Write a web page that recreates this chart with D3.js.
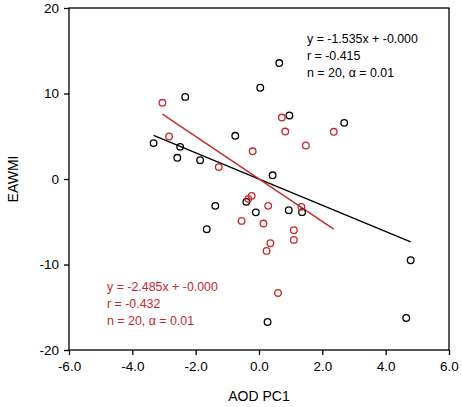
<!DOCTYPE html>
<html>
<head>
<meta charset="utf-8">
<script src="https://cdn.jsdelivr.net/npm/d3@7"></script>
<style>
  body { margin: 0; background: #fff; }
  text { font-family: "Liberation Sans", Arial, sans-serif; }
</style>
</head>
<body>
<svg id="chart"></svg>
<script>
// chart data
const blackX = [-3.33, -2.33, -2.49, -2.58, -1.86, -0.75, 0.64, 0.04, 0.96, 2.69,
  0.43, -1.38, -0.40, -0.10, 0.94, 1.36, -1.65, 4.79, 4.65, 0.27];
const blackY = [4.2, 9.6, 3.76, 2.48, 2.2, 5.05, 13.56, 10.67, 7.43, 6.57,
  0.43, -3.14, -2.67, -3.9, -3.65, -3.88, -5.87, -9.5, -16.25, -16.72];
const redX = [-3.05, -2.84, -1.27, -0.20, 0.72, 0.83, 1.48, 2.36, -0.23, -0.34,
  0.29, -0.55, 0.14, 1.34, 1.10, 1.10, 0.36, 0.24, 0.60];
const redY = [8.91, 4.97, 1.39, 3.24, 7.19, 5.55, 3.92, 5.52, -1.97, -2.32,
  -3.14, -4.9, -5.21, -3.26, -5.99, -7.12, -7.51, -8.41, -13.33];
const blackSlope = -1.535, redSlope = -2.485;
const blackText = ["y = -1.535x + -0.000", "r = -0.415", "n = 20, \u03b1 = 0.01"];
const redText = ["y = -2.485x + -0.000", "r = -0.432", "n = 20, \u03b1 = 0.01"];
const xTicks = [-6, -4, -2, 0, 2, 4, 6];
const yTicks = [-20, -10, 0, 10, 20];

//////////////////////////
// Chart specifications //
//////////////////////////
const W = 462, H = 407;
const margin = { top: 8, right: 13, bottom: 57, left: 69 };
const blackCol = "#000", redCol = "#c8282d";

const svg = d3.select("#chart").attr("width", W).attr("height", H);

const x = d3.scaleLinear().domain([-6, 6]).range([margin.left, W - margin.right]);
const y = d3.scaleLinear().domain([-20, 20]).range([H - margin.bottom, margin.top]);

// frame
svg.append("rect")
  .attr("x", x(-6)).attr("y", y(20))
  .attr("width", x(6) - x(-6)).attr("height", y(-20) - y(20))
  .attr("fill", "none").attr("stroke", "#000").attr("stroke-width", 1.3);

// axes (plain hyphen minus, like the original)
svg.append("g")
  .attr("transform", `translate(0,${y(-20)})`)
  .call(d3.axisBottom(x).tickValues(xTicks).tickFormat((d) => d.toFixed(1)).tickSize(5).tickPadding(6))
  .call((g) => g.select(".domain").remove())
  .call((g) => g.selectAll(".tick line").attr("stroke-width", 1.3))
  .call((g) => g.selectAll(".tick text").attr("font-size", 13.5).attr("fill", "#000")
    .attr("font-family", "Liberation Sans, Arial, sans-serif"));

svg.append("g")
  .attr("transform", `translate(${x(-6)},0)`)
  .call(d3.axisLeft(y).tickValues(yTicks).tickFormat((d) => String(d)).tickSize(5).tickPadding(5))
  .call((g) => g.select(".domain").remove())
  .call((g) => g.selectAll(".tick line").attr("stroke-width", 1.3))
  .call((g) => g.selectAll(".tick text").attr("font-size", 13.5).attr("fill", "#000")
    .attr("font-family", "Liberation Sans, Arial, sans-serif"));

// axis titles
svg.append("text")
  .attr("x", x(0)).attr("y", 401)
  .attr("text-anchor", "middle").attr("font-size", 14)
  .text("AOD PC1");
svg.append("text")
  .attr("transform", `translate(18,${y(0)}) rotate(-90)`)
  .attr("text-anchor", "middle").attr("font-size", 14)
  .text("EAWMI");

// regression lines (drawn over the data extent)
function drawFit(xs, slope, col) {
  const ext = d3.extent(xs);
  svg.append("line")
    .attr("x1", x(ext[0])).attr("y1", y(slope * ext[0]))
    .attr("x2", x(ext[1])).attr("y2", y(slope * ext[1]))
    .attr("stroke", col).attr("stroke-width", 1.4);
}
drawFit(blackX, blackSlope, blackCol);
drawFit(redX, redSlope, redCol);

// points
function drawDots(xs, ys, col) {
  svg.append("g")
    .selectAll("circle")
    .data(xs.map((d, i) => [d, ys[i]]))
    .join("circle")
    .attr("cx", (d) => x(d[0]))
    .attr("cy", (d) => y(d[1]))
    .attr("r", 3.3)
    .attr("fill", "none")
    .attr("stroke", col)
    .attr("stroke-width", 1.3);
}
drawDots(blackX, blackY, blackCol);
drawDots(redX, redY, redCol);

// annotations
function drawNote(lines, px, py, col) {
  svg.append("text")
    .attr("x", px).attr("y", py)
    .attr("font-size", 12.4).attr("fill", col)
    .selectAll("tspan")
    .data(lines)
    .join("tspan")
    .attr("x", px)
    .attr("dy", (d, i) => (i === 0 ? 0 : 17.3))
    .text((d) => d);
}
drawNote(blackText, 307, 42.5, blackCol);
drawNote(redText, 107, 290.5, redCol);
</script>
</body>
</html>
